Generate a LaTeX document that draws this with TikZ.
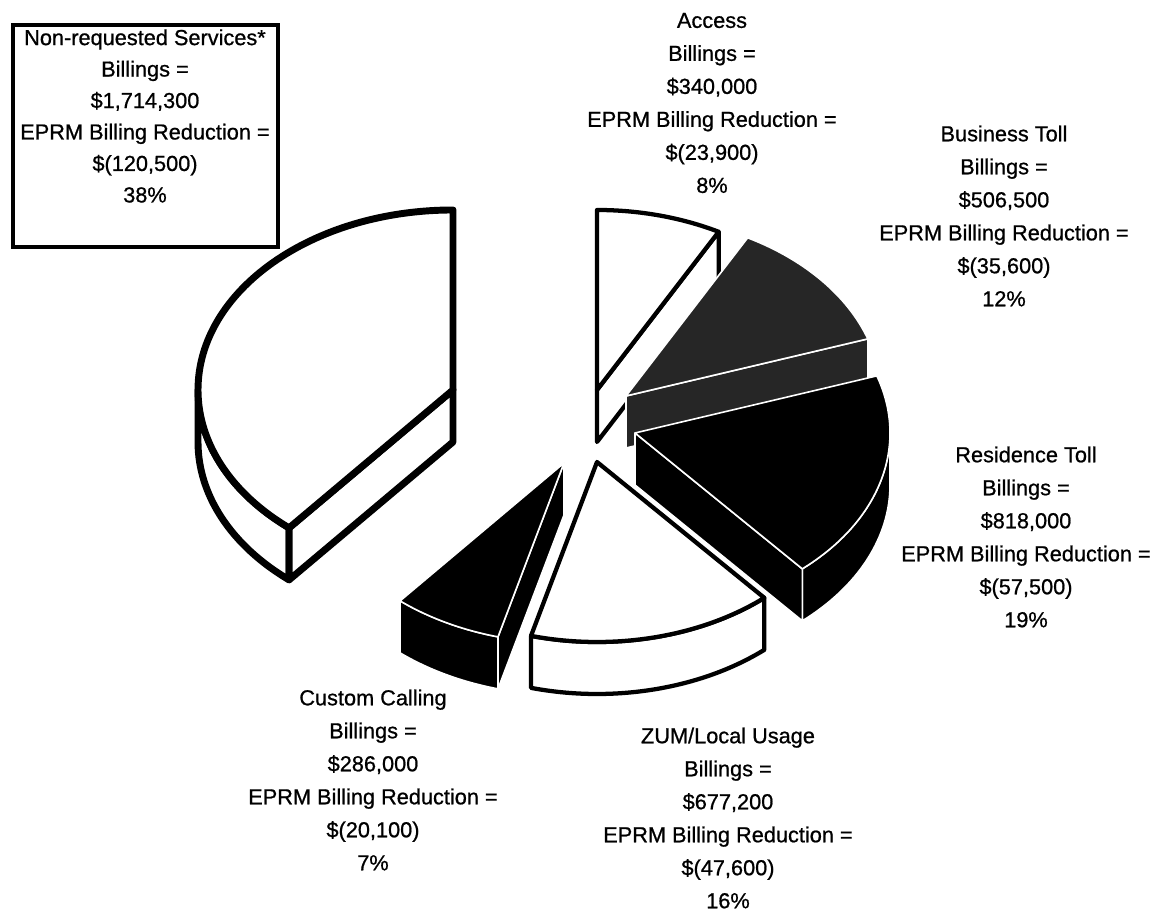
\documentclass[tikz,border=0pt]{standalone}
\usepackage{fontspec}
\setmainfont{Liberation Sans}[FakeBold=0.8]
\tikzset{
  whiteslice/.style={fill=white, draw=black, line width=3.2pt, line join=round},
  bigslice/.style={fill=white, draw=black, line width=5.2pt, line join=round},
  blackslice/.style={fill=black, draw=white, line width=1.2pt, line join=round},
  greyslice/.style={fill=black!85, draw=white, line width=1.2pt, line join=round},
  slicetext/.style={align=center, inner sep=0pt, font=\fontsize{16.3}{24.75}\selectfont},
  calloutbox/.style={draw=black, line width=3.5pt}
}
\begin{document}
\begin{tikzpicture}[x=0.75pt, y=0.75pt, x radius=255, y radius=180]
\useasboundingbox (0,0) rectangle (1157,912);
% apex of each slice
\coordinate (A) at (597,522);
\coordinate (B) at (626,516);
\coordinate (N) at (453,522);
\coordinate (R) at (635,479);
\coordinate (Z) at (597,450);
\coordinate (C) at (564,449);
\draw[calloutbox] (13,665) rectangle (278,887);
% Access
\draw[whiteslice] (A) -- ++(61.5:255 and 180) -- ++(0,-52) -- ++(241.5:255 and 180) -- cycle;
\draw[whiteslice] (A) -- ++(61.5:255 and 180) arc[start angle=61.5, end angle=90] -- cycle;
% Business Toll
\draw[greyslice] (B) -- ++(18.5:255 and 180) -- ++(0,-52) -- ++(198.5:255 and 180) -- cycle;
\draw[greyslice] (B) -- ++(18.5:255 and 180) arc[start angle=18.5, end angle=61.5] -- cycle;
% Non-requested Services
\draw[bigslice] (N) ++(180:255 and 180) arc[start angle=180, end angle=230] -- ++(0,-52) arc[start angle=230, end angle=180] -- cycle;
\draw[bigslice] (N) -- ++(230:255 and 180) -- ++(0,-52) -- ++(50:255 and 180) -- cycle;
\draw[bigslice] (N) -- ++(90:255 and 180) arc[start angle=90, end angle=230] -- cycle;
% Residence Toll
\draw[blackslice] (R) ++(-49:255 and 180) arc[start angle=-49, end angle=0] -- ++(0,-52) arc[start angle=0, end angle=-49] -- cycle;
\draw[blackslice] (R) -- ++(-49:255 and 180) -- ++(0,-52) -- ++(131:255 and 180) -- cycle;
\draw[blackslice] (R) -- ++(-49:255 and 180) arc[start angle=-49, end angle=18.5] -- cycle;
% ZUM/Local Usage
\draw[whiteslice] (Z) ++(-105:255 and 180) arc[start angle=-105, end angle=-49] -- ++(0,-52) arc[start angle=-49, end angle=-105] -- cycle;
\draw[whiteslice] (Z) -- ++(-105:255 and 180) arc[start angle=-105, end angle=-49] -- cycle;
% Custom Calling
\draw[blackslice] (C) ++(-130:255 and 180) arc[start angle=-130, end angle=-105] -- ++(0,-52) arc[start angle=-105, end angle=-130] -- cycle;
\draw[blackslice] (C) -- ++(-105:255 and 180) -- ++(0,-52) -- ++(75:255 and 180) -- cycle;
\draw[blackslice] (C) -- ++(-130:255 and 180) arc[start angle=-130, end angle=-105] -- cycle;
% labels
\node[slicetext, font=\fontsize{16.3}{23.6}\selectfont] (nonreq) at (145,796) {Non-requested Services*\\Billings =\\\$1,714,300\\EPRM Billing Reduction =\\\$(120,500)\\38\%};
\node[slicetext] (access) at (712,809) {Access\\Billings =\\\$340,000\\EPRM Billing Reduction =\\\$(23,900)\\8\%};
\node[slicetext] (business) at (1004,696) {Business Toll\\Billings =\\\$506,500\\EPRM Billing Reduction =\\\$(35,600)\\12\%};
\node[slicetext] (residence) at (1026,375) {Residence Toll\\Billings =\\\$818,000\\EPRM Billing Reduction =\\\$(57,500)\\19\%};
\node[slicetext] (zum) at (728,94) {ZUM/Local Usage\\Billings =\\\$677,200\\EPRM Billing Reduction =\\\$(47,600)\\16\%};
\node[slicetext] (custom) at (373,132) {Custom Calling\\Billings =\\\$286,000\\EPRM Billing Reduction =\\\$(20,100)\\7\%};
\end{tikzpicture}
\end{document}
